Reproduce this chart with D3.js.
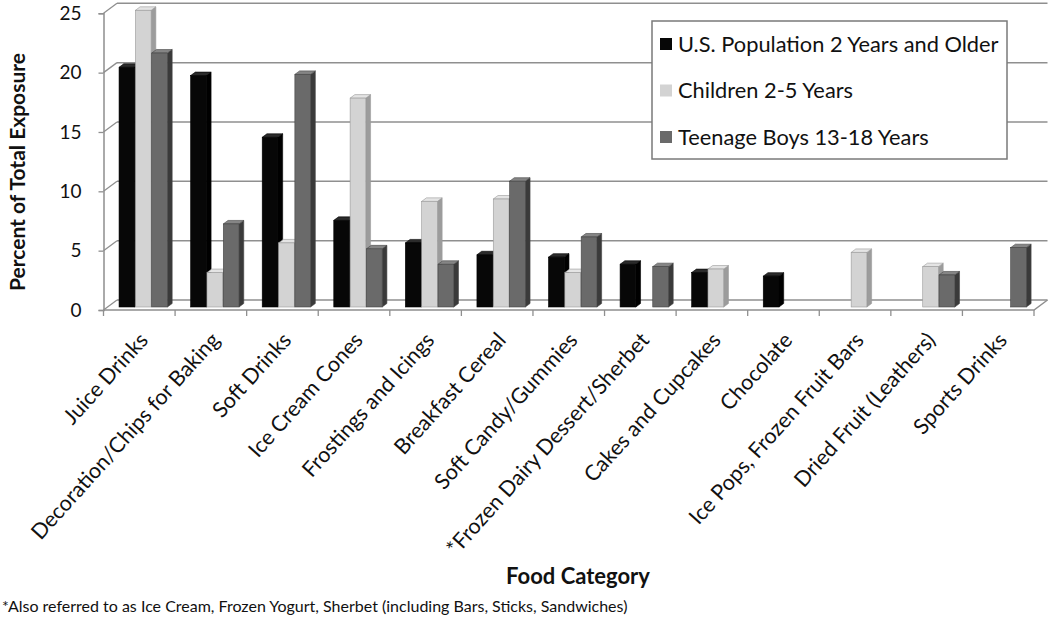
<!DOCTYPE html>
<html>
<head>
<meta charset="utf-8">
<script src="https://cdn.jsdelivr.net/npm/d3@7"></script>
<style>
  body { margin: 0; background: #fff; }
  svg text { font-family: Lato, "Open Sans", sans-serif; fill: #111; }
</style>
</head>
<body>
<div id="chart"></div>
<script>
// Data
const categories = ['Juice Drinks', 'Decoration/Chips for Baking', 'Soft Drinks', 'Ice Cream Cones',
    'Frostings and Icings', 'Breakfast Cereal', 'Soft Candy/Gummies', '*Frozen Dairy Dessert/Sherbet',
    'Cakes and Cupcakes', 'Chocolate', 'Ice Pops, Frozen Fruit Bars', 'Dried Fruit (Leathers)', 'Sports Drinks']
const seriesNames = ['U.S. Population 2 Years and Older', 'Children 2-5 Years', 'Teenage Boys 13-18 Years']
const usPopulation = [20.2, 19.5, 14.3, 7.3, 5.4, 4.4, 4.2, 3.6, 2.9, 2.6, null, null, null]
const children = [25.0, 2.9, 5.4, 17.6, 8.9, 9.1, 2.9, null, 3.2, null, 4.6, 3.4, null]
const teenBoys = [21.4, 7.0, 19.6, 4.9, 3.6, 10.6, 5.9, 3.4, null, null, null, 2.7, 5.0]
const yTicks = [0, 5, 10, 15, 20, 25]
const footnote = '*Also referred to as Ice Cream, Frozen Yogurt, Sherbet (including Bars, Sticks, Sandwiches)'

function draw() {
    const width = 1050
    const height = 618

    // 3D depth of the plot box
    const depth = { dx: 13.5, dy: -10 }
    const barFront = 0.3
    const barDepth = 0.35

    const svg = d3.select('#chart')
        .append('svg')
        .attr('width', width)
        .attr('height', height)

    // Scales
    const xScale = d3.scaleBand()
        .domain(categories)
        .range([103.5, 1034])

    const xInner = d3.scaleBand()
        .domain(seriesNames)
        .range([11.5, 60.5])

    const yScale = d3.scaleLinear()
        .domain([0, 25])
        .range([310, 13.3])

    const grid = '#8f8f8f'

    // back wall gridlines + side wall diagonals
    const walls = svg.append('g')
    walls.selectAll('line.back')
        .data(yTicks)
        .join('line')
        .attr('x1', xScale.range()[0] + depth.dx)
        .attr('x2', xScale.range()[1] + depth.dx)
        .attr('y1', d => yScale(d) + depth.dy)
        .attr('y2', d => yScale(d) + depth.dy)
        .attr('stroke', grid)
        .attr('stroke-width', 1.5)

    walls.selectAll('line.side')
        .data(yTicks)
        .join('line')
        .attr('x1', xScale.range()[0])
        .attr('x2', xScale.range()[0] + depth.dx)
        .attr('y1', d => yScale(d))
        .attr('y2', d => yScale(d) + depth.dy)
        .attr('stroke', grid)
        .attr('stroke-width', 1.3)

    // floor front edge and right edge
    walls.append('path')
        .attr('d', `M${xScale.range()[0]},${yScale(0)}H${xScale.range()[1]}l${depth.dx},${depth.dy}`)
        .attr('fill', 'none')
        .attr('stroke', grid)
        .attr('stroke-width', 1.5)

    // Bars
    const series = [
        { name: seriesNames[0], values: usPopulation, front: '#070707', side: '#000000', top: '#2b2b2b', stroke: '#000' },
        { name: seriesNames[1], values: children, front: '#d3d3d3', side: '#9c9c9c', top: '#e4e4e4', stroke: '#9a9a9a' },
        { name: seriesNames[2], values: teenBoys, front: '#6a6a6a', side: '#3a3a3a', top: '#858585', stroke: '#444' }
    ]

    const bars = []
    categories.forEach((c, i) => {
        series.forEach(s => {
            if (s.values[i] != null) bars.push({ cat: c, s: s, v: s.values[i] })
        })
    })

    const ox = depth.dx * barFront
    const oy = depth.dy * barFront
    const bx = depth.dx * barDepth
    const by = depth.dy * barDepth
    const bw = xInner.bandwidth() - 0.6

    const barG = svg.append('g')
        .selectAll('g')
        .data(bars)
        .join('g')

    barG.each(function (d) {
        const g = d3.select(this)
        const x = xScale(d.cat) + xInner(d.s.name) + ox
        const y0 = yScale(0) + oy
        const y1 = yScale(d.v) + oy
        // right side
        g.append('path')
            .attr('d', `M${x + bw},${y0}L${x + bw + bx},${y0 + by}L${x + bw + bx},${y1 + by}L${x + bw},${y1}Z`)
            .attr('fill', d.s.side)
            .attr('stroke', d.s.stroke)
            .attr('stroke-width', 0.6)
        // top
        g.append('path')
            .attr('d', `M${x},${y1}L${x + bx},${y1 + by}L${x + bw + bx},${y1 + by}L${x + bw},${y1}Z`)
            .attr('fill', d.s.top)
            .attr('stroke', d.s.stroke)
            .attr('stroke-width', 0.6)
        // front
        g.append('rect')
            .attr('x', x)
            .attr('y', y1)
            .attr('width', bw)
            .attr('height', y0 - y1)
            .attr('fill', d.s.front)
            .attr('stroke', d.s.stroke)
            .attr('stroke-width', 0.6)
    })

    // Y axis
    const yAxis = d3.axisLeft(yScale)
        .tickValues(yTicks)
        .tickSize(5)
        .tickPadding(17)

    const yAxisGroup = svg.append('g')
        .attr('transform', `translate(${xScale.range()[0]},0)`)
        .call(yAxis)

    yAxisGroup.select('.domain')
        .attr('stroke', grid)
        .attr('stroke-width', 1.5)
    yAxisGroup.selectAll('.tick line')
        .attr('stroke', grid)
        .attr('stroke-width', 1.3)
    yAxisGroup.selectAll('.tick text')
        .style('font-family', 'Lato, sans-serif')
        .style('font-size', '19px')
        .attr('fill', '#111')

    // X ticks at category boundaries
    const bounds = categories.map(c => xScale(c)).concat([xScale.range()[1]])
    svg.append('g')
        .selectAll('line')
        .data(bounds)
        .join('line')
        .attr('x1', d => d)
        .attr('x2', d => d)
        .attr('y1', yScale(0))
        .attr('y2', yScale(0) + 6)
        .attr('stroke', grid)
        .attr('stroke-width', 1.3)

    // X labels
    svg.append('g')
        .selectAll('text')
        .data(categories)
        .join('text')
        .attr('transform', d => `translate(${xScale(d) + xScale.bandwidth() / 2 + 10},${yScale(0) + 31}) rotate(-48)`)
        .attr('text-anchor', 'end')
        .style('font-size', '21.5px')
        .text(d => d)

    // Axis titles
    svg.append('text')
        .attr('transform', `translate(25,172) rotate(-90)`)
        .attr('text-anchor', 'middle')
        .style('font-size', '21px')
        .style('font-weight', 'bold')
        .text('Percent of Total Exposure')

    svg.append('text')
        .attr('x', 578)
        .attr('y', 584)
        .attr('text-anchor', 'middle')
        .style('font-size', '22px')
        .style('font-weight', 'bold')
        .text('Food Category')

    svg.append('text')
        .attr('x', 2)
        .attr('y', 612)
        .style('font-size', '16px')
        .text(footnote)

    // Legend
    const legend = svg.append('g')
        .attr('transform', 'translate(652,21)')

    legend.append('rect')
        .attr('width', 355)
        .attr('height', 138)
        .attr('fill', '#fff')
        .attr('stroke', '#7a7a7a')
        .attr('stroke-width', 1.5)

    const item = legend.selectAll('g')
        .data(series)
        .join('g')
        .attr('transform', (d, i) => `translate(8,${23 + i * 46.5})`)

    item.append('rect')
        .attr('x', 0)
        .attr('y', -6)
        .attr('width', 12)
        .attr('height', 12)
        .attr('fill', d => d.front)

    item.append('text')
        .attr('x', 18)
        .attr('dy', '0.36em')
        .style('font-size', '21.8px')
        .text(d => d.name)
}

draw()
</script>
</body>
</html>
